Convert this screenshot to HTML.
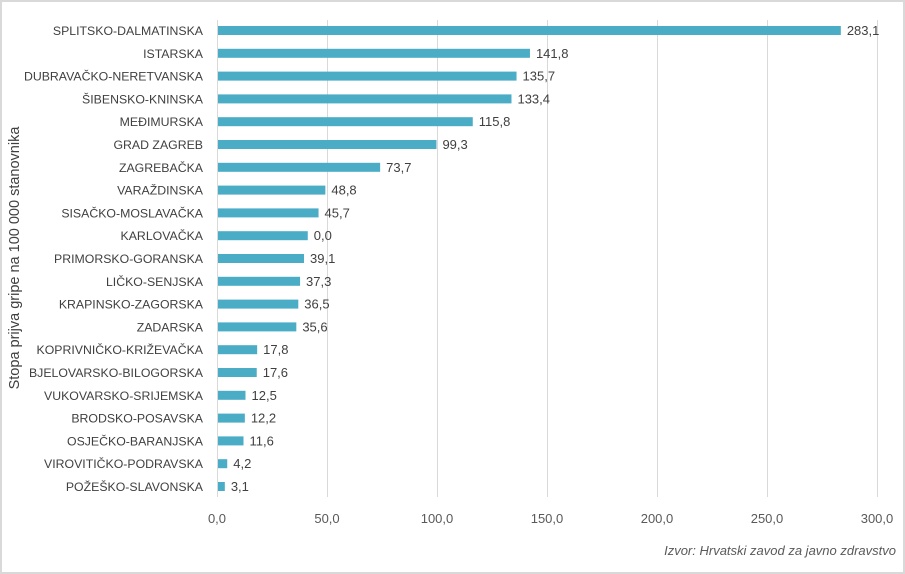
<!DOCTYPE html>
<html><head><meta charset="utf-8"><style>
body{margin:0;background:#fff}
svg{display:block;font-family:"Liberation Sans",sans-serif}
</style></head><body>
<svg width="905" height="574" viewBox="0 0 905 574">
<rect x="1" y="1" width="903" height="572" fill="#fff" stroke="#d9d9d9" stroke-width="2"/>
<g stroke="#d9d9d9" stroke-width="1">
<line x1="217.5" y1="20" x2="217.5" y2="497"/>
<line x1="327.5" y1="20" x2="327.5" y2="497"/>
<line x1="437.5" y1="20" x2="437.5" y2="497"/>
<line x1="547.5" y1="20" x2="547.5" y2="497"/>
<line x1="657.5" y1="20" x2="657.5" y2="497"/>
<line x1="767.5" y1="20" x2="767.5" y2="497"/>
<line x1="877.5" y1="20" x2="877.5" y2="497"/>
</g>
<g id="bars" fill="#4bacc6"></g>
<g id="labels" font-size="12.3" fill="#404040" text-anchor="end"></g>
<g id="vals" font-size="13" fill="#404040"></g>
<g font-size="13" fill="#595959" text-anchor="middle">
<text x="217" y="523">0,0</text><text x="327" y="523">50,0</text><text x="437" y="523">100,0</text>
<text x="547" y="523">150,0</text><text x="657" y="523">200,0</text><text x="767" y="523">250,0</text><text x="877" y="523">300,0</text>
</g>
<text x="896" y="555" font-size="13" font-style="italic" fill="#595959" text-anchor="end">Izvor: Hrvatski zavod za javno zdravstvo</text>
<text transform="translate(19,258) rotate(-90)" font-size="14.5" fill="#404040" text-anchor="middle">Stopa prijva gripe na 100 000 stanovnika</text>
</svg>
<script>
var d=[["SPLITSKO-DALMATINSKA",283.1,"283,1"],["ISTARSKA",141.8,"141,8"],["DUBRAVAČKO-NERETVANSKA",135.7,"135,7"],["ŠIBENSKO-KNINSKA",133.4,"133,4"],["MEĐIMURSKA",115.8,"115,8"],["GRAD ZAGREB",99.3,"99,3"],["ZAGREBAČKA",73.7,"73,7"],["VARAŽDINSKA",48.8,"48,8"],["SISAČKO-MOSLAVAČKA",45.7,"45,7"],["KARLOVAČKA",40.8,"0,0"],["PRIMORSKO-GORANSKA",39.1,"39,1"],["LIČKO-SENJSKA",37.3,"37,3"],["KRAPINSKO-ZAGORSKA",36.5,"36,5"],["ZADARSKA",35.6,"35,6"],["KOPRIVNIČKO-KRIŽEVAČKA",17.8,"17,8"],["BJELOVARSKO-BILOGORSKA",17.6,"17,6"],["VUKOVARSKO-SRIJEMSKA",12.5,"12,5"],["BRODSKO-POSAVSKA",12.2,"12,2"],["OSJEČKO-BARANJSKA",11.6,"11,6"],["VIROVITIČKO-PODRAVSKA",4.2,"4,2"],["POŽEŠKO-SLAVONSKA",3.1,"3,1"]];
var ns="http://www.w3.org/2000/svg",b=document.getElementById("bars"),l=document.getElementById("labels"),v=document.getElementById("vals");
d.forEach(function(r,i){var y=30.5+i*22.8,w=r[1]*2.2;
var e=document.createElementNS(ns,"rect");e.setAttribute("x",218);e.setAttribute("y",y-4.5);e.setAttribute("width",w);e.setAttribute("height",9);b.appendChild(e);
var t=document.createElementNS(ns,"text");t.setAttribute("x",203);t.setAttribute("y",y+4.5);t.textContent=r[0];l.appendChild(t);
t=document.createElementNS(ns,"text");t.setAttribute("x",218+w+6);t.setAttribute("y",y+4.5);t.textContent=r[2];v.appendChild(t);});
</script>
</body></html>
